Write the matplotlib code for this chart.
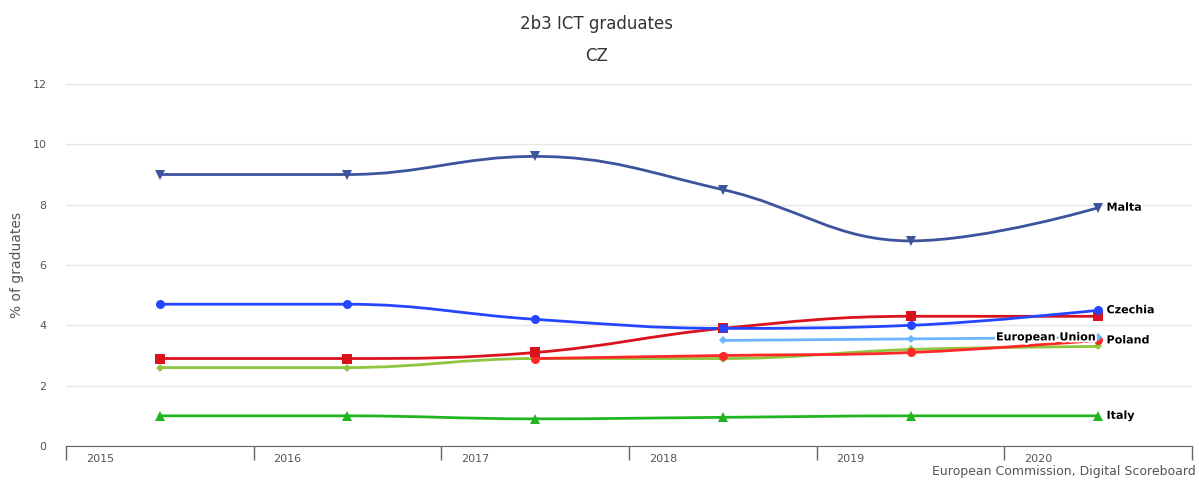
"""2b3 ICT graduates - CZ comparison chart."""
import matplotlib
matplotlib.use('Agg')
import matplotlib.pyplot as plt
import matplotlib.patheffects as pe
from matplotlib.path import Path
from matplotlib.patches import PathPatch
import numpy as np

# ---------- data ----------
years = [2015, 2016, 2017, 2018, 2019, 2020]
malta = [9.0, 9.0, 9.6, 8.5, 6.8, 7.9]
czechia = [4.7, 4.7, 4.2, 3.9, 4.0, 4.5]
red_sq = [2.9, 2.9, 3.1, 3.9, 4.3, 4.3]
poland = [np.nan, np.nan, 2.9, 3.0, 3.1, 3.5]
lime = [2.6, 2.6, 2.9, 2.9, 3.2, 3.3]
eu = [np.nan, np.nan, np.nan, 3.5, 3.55, 3.6]
italy = [1.0, 1.0, 0.9, 0.95, 1.0, 1.0]

# name, values, color, marker, marker size, end label
series = [
    ('Italy', italy, '#22B522', '^', 6.5, 'Italy'),
    ('lime', lime, '#8DC63F', 'D', 4.5, None),
    ('Poland', poland, '#FF2828', 'o', 6.5, 'Poland'),
    ('European Union', eu, '#6BB5FF', 'D', 4.5, 'European Union'),
    ('red', red_sq, '#D9121E', 's', 6.5, None),
    ('Czechia', czechia, '#2546FF', 'o', 6.5, 'Czechia'),
    ('Malta', malta, '#3C539E', 'v', 6.5, 'Malta'),
]


def spline_path(xs, ys, smoothing=1.5):
    """Highcharts-style spline as cubic bezier path."""
    n = len(xs)
    denom = smoothing + 1
    left = [(x, y) for x, y in zip(xs, ys)]
    right = [(x, y) for x, y in zip(xs, ys)]
    for i in range(1, n - 1):
        px, py = xs[i], ys[i]
        lx, ly = xs[i - 1], ys[i - 1]
        nx, ny = xs[i + 1], ys[i + 1]
        lcx = (smoothing * px + lx) / denom
        lcy = (smoothing * py + ly) / denom
        rcx = (smoothing * px + nx) / denom
        rcy = (smoothing * py + ny) / denom
        if rcx != lcx:
            corr = (rcy - lcy) * (rcx - px) / (rcx - lcx) + py - rcy
            lcy += corr
            rcy += corr
            if lcy > ly and lcy > py:
                lcy = max(ly, py); rcy = 2 * py - lcy
            elif lcy < ly and lcy < py:
                lcy = min(ly, py); rcy = 2 * py - lcy
            if rcy > ny and rcy > py:
                rcy = max(ny, py); lcy = 2 * py - rcy
            elif rcy < ny and rcy < py:
                rcy = min(ny, py); lcy = 2 * py - rcy
        left[i] = (lcx, lcy)
        right[i] = (rcx, rcy)
    verts = [(xs[0], ys[0])]
    codes = [Path.MOVETO]
    for i in range(1, n):
        verts += [right[i - 1], left[i], (xs[i], ys[i])]
        codes += [Path.CURVE4] * 3
    return Path(verts, codes)


fig = plt.figure(figsize=(11.99, 4.86), dpi=100)
ax = fig.add_axes([0.055, 0.0823, 0.9392, 0.7448])

xpos = [y + 0.5 for y in years]
halo = [pe.withStroke(linewidth=3, foreground='white')]

for name, vals, color, marker, ms, label in series:
    xs = [x for x, v in zip(xpos, vals) if not np.isnan(v)]
    ys = [v for v in vals if not np.isnan(v)]
    ax.add_patch(PathPatch(spline_path(xs, ys), facecolor='none',
                           edgecolor=color, linewidth=2, zorder=3))
    ax.plot(xs, ys, linestyle='none', marker=marker, color=color,
            markersize=ms, markeredgewidth=0, zorder=4)
    if label == 'European Union':
        ax.annotate(label, (xs[-1], ys[-1]), xytext=(-2, 0), textcoords='offset points',
                    ha='right', va='center', fontsize=8, fontweight='bold',
                    color='black', path_effects=halo, zorder=5)
    elif label:
        ax.annotate(label, (xs[-1], ys[-1]), xytext=(6, 0), textcoords='offset points',
                    ha='left', va='center', fontsize=8, fontweight='bold',
                    color='black', path_effects=halo, zorder=5)

ax.set_xlim(2015, 2021)
ax.set_ylim(0, 12)
ax.set_yticks([0, 2, 4, 6, 8, 10, 12])
ax.set_xticks(range(2015, 2022))
ax.set_xticklabels([])
ax.set_xticks([y + 0.18 for y in years], minor=True)
ax.set_xticklabels([str(y) for y in years], minor=True)
ax.tick_params(axis='x', which='major', length=10, width=1, color='#666666', direction='out')
ax.tick_params(axis='x', which='minor', length=0, labelsize=8, labelcolor='#555555', pad=6)
ax.tick_params(axis='y', length=0, labelsize=8, labelcolor='#555555', pad=14)
ax.grid(axis='y', color='#E6E6E6', linewidth=1)
ax.set_axisbelow(True)
for side in ['top', 'right', 'left']:
    ax.spines[side].set_visible(False)
ax.spines['bottom'].set_color('#666666')
ax.set_ylabel('% of graduates', fontsize=10, color='#555555', labelpad=6)

fig.text(0.4975, 0.95, '2b3 ICT graduates', ha='center', va='center', fontsize=12, color='#333333')
fig.text(0.4975, 0.885, 'CZ', ha='center', va='center', fontsize=12, color='#333333')
fig.text(0.997, 0.016, 'European Commission, Digital Scoreboard', ha='right', va='bottom',
         fontsize=9, color='#555555')

plt.savefig('out.png', dpi=100)
plt.close()
